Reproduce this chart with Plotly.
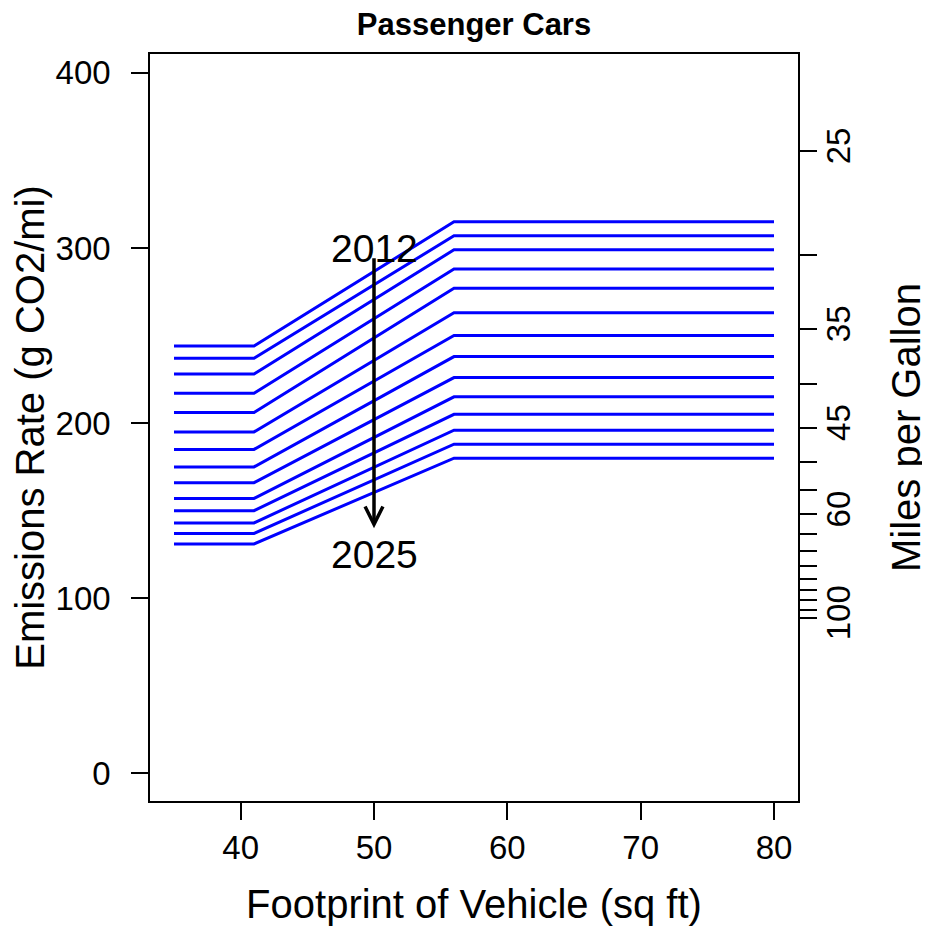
import plotly.graph_objects as go

# Model years and CO2 targets (g/mi) for passenger cars
years = list(range(2012, 2026))
small_car_target = [244, 237, 228, 217, 206, 195, 185, 175, 166, 157, 150, 143, 137, 131]
large_car_target = [315, 307, 299, 288, 277, 263, 250, 238, 226, 215, 205, 196, 188, 180]
footprint_points = [35, 41, 56, 80]

left_ticks = [0, 100, 200, 300, 400]
x_ticks = [40, 50, 60, 70, 80]
mpg_ticks = [25, 30, 35, 40, 45, 50, 55, 60, 65, 70, 75, 80, 85, 90, 95, 100]
mpg_labelled = [25, 35, 45, 60, 100]
GRAMS_CO2_PER_GALLON = 8887

arrow_from, arrow_to = 295, 140
label_top_y, label_bottom_y = 300, 125

FONT = "Arial, Liberation Sans, sans-serif"
W, H = 922, 918  # page body has an 8px margin before the figure

fig = go.Figure()
for yr, a, b in zip(years, small_car_target, large_car_target):
    fig.add_trace(go.Scatter(
        x=footprint_points, y=[a, a, b, b], mode="lines",
        line=dict(color="#0000FF", width=3), name=str(yr),
        showlegend=False, hoverinfo="skip"))

# invisible trace on the secondary axis so it renders
fig.add_trace(go.Scatter(x=[footprint_points[0]], y=[small_car_target[0]], yaxis="y2",
                         mode="markers", marker=dict(opacity=0), showlegend=False,
                         hoverinfo="skip"))

yrange = [-15.8, 410.8]
axis_common = dict(ticks="outside", ticklen=17, tickwidth=1.5, tickcolor="black",
                   showline=True, linecolor="black", linewidth=1.5, showgrid=False,
                   zeroline=False, tickfont=dict(size=33), automargin=False)
fig.update_layout(
    width=W, height=H,
    margin=dict(l=142, r=132, t=46, b=125),
    paper_bgcolor="white", plot_bgcolor="white",
    font=dict(family=FONT, color="black"),
    title=dict(text="<b>Passenger Cars</b>", x=0.5, xref="paper", xanchor="center",
               y=1 - 16 / H, yanchor="middle", yref="container",
               font=dict(size=31, family=FONT)),
    xaxis=dict(range=[33.2, 81.8], tickvals=x_ticks, mirror=True, ticklabelstandoff=0,
               title=dict(text="Footprint of Vehicle (sq ft)", font=dict(size=40), standoff=30),
               **axis_common),
    yaxis=dict(range=yrange, tickvals=left_ticks, mirror=True, ticklabelstandoff=14,
               title=dict(text="Emissions Rate (g CO2/mi)", font=dict(size=40), standoff=8),
               **axis_common),
    yaxis2=dict(range=yrange, overlaying="y", side="right",
                tickvals=[GRAMS_CO2_PER_GALLON / m for m in mpg_ticks],
                ticktext=[str(m) if m in mpg_labelled else "" for m in mpg_ticks],
                tickangle=-90, ticklabelstandoff=-6,
                title=dict(text="Miles per Gallon", font=dict(size=40), standoff=36),
                **axis_common),
)

fig.add_annotation(x=50, y=arrow_to, ax=50, ay=arrow_from, xref="x", yref="y",
                   axref="x", ayref="y", showarrow=True, text="",
                   arrowhead=5, arrowwidth=3.5, arrowsize=1.0, arrowcolor="black")
fig.add_annotation(x=50, y=label_top_y, xref="x", yref="y", text="2012", showarrow=False,
                   font=dict(size=39))
fig.add_annotation(x=50, y=label_bottom_y, xref="x", yref="y", text="2025", showarrow=False,
                   font=dict(size=39))

fig.write_html("out.html")
